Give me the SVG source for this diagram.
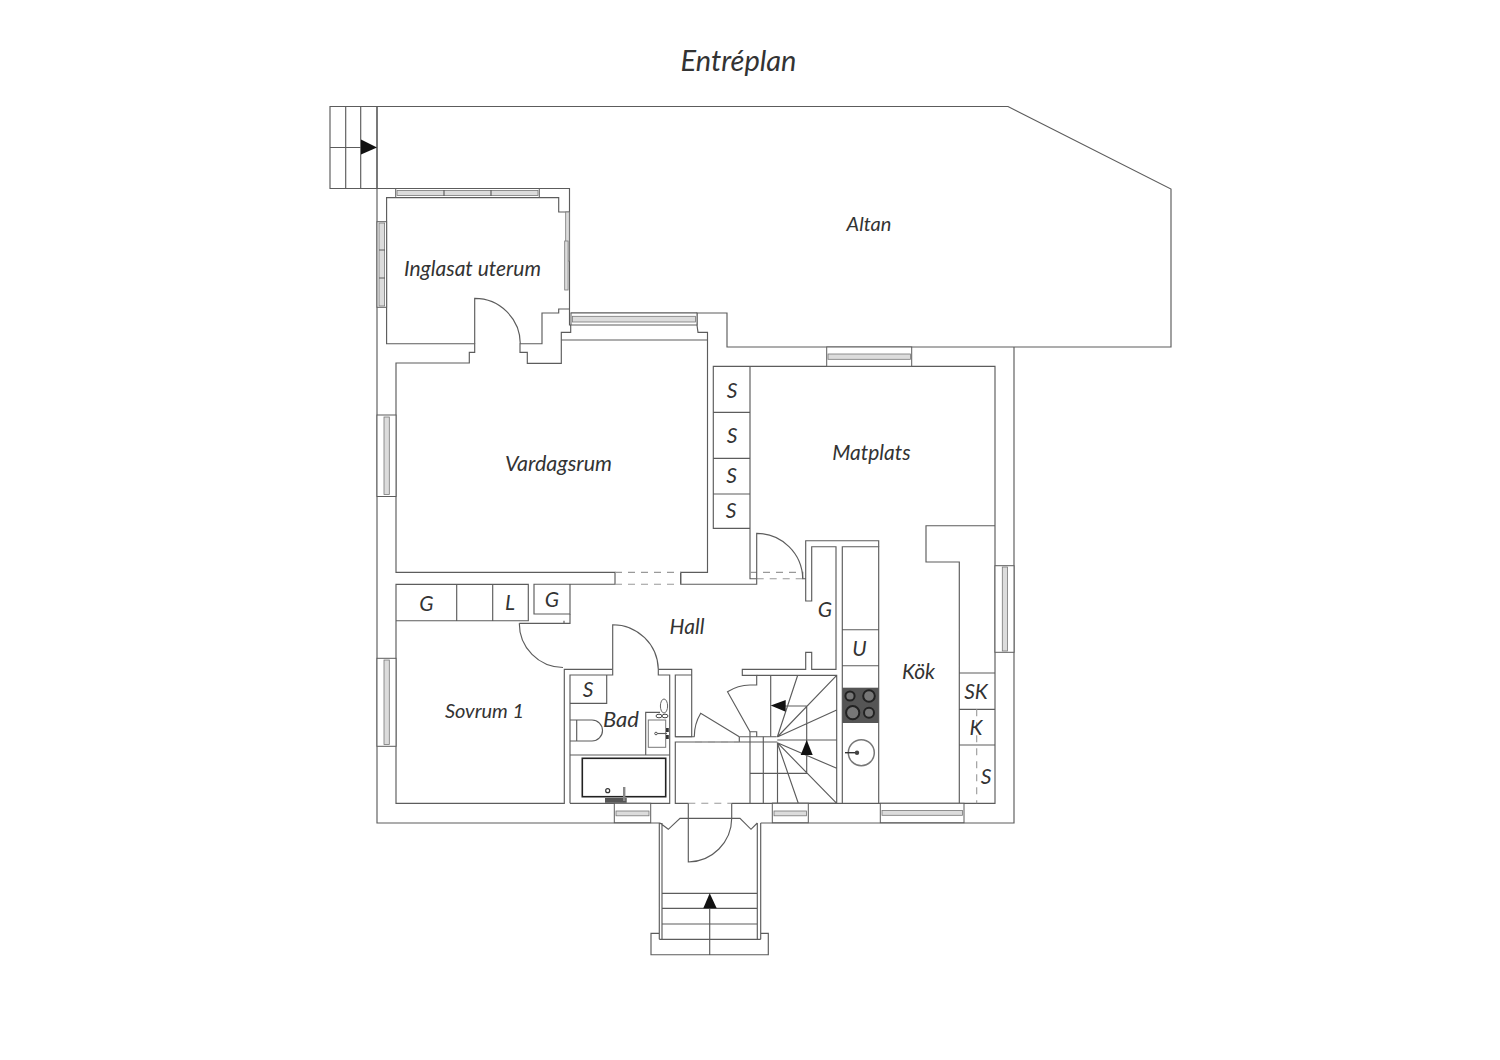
<svg xmlns="http://www.w3.org/2000/svg" width="1500" height="1060" viewBox="0 0 1500 1060">
<style>
.l{fill:none;stroke:#5c5c5c;stroke-width:1.15}
.d{fill:none;stroke:#999;stroke-width:1.1;stroke-dasharray:7 6}
.w{fill:#fff;stroke:#5c5c5c;stroke-width:1}
.v{fill:#dcdcdc;stroke:#777;stroke-width:.8}
.a{fill:#111;stroke:none}
text{font-family:"Lato","Liberation Sans",sans-serif;font-style:italic;font-size:21px;fill:#333;text-anchor:middle}
</style>
<rect width="1500" height="1060" fill="#fff"/>
<g id="walls">
<path class="l" d="M377 106.5H1008L1171 189V347H727V313H697V325L698 332.3H707.5V572.4H680.7V584.2H756.7V578.7H750V366.3M707.5 340H561.3M727 347H1014V823H760.7M660 823H377V188.5H569.5V309M377 188.5V106.5"/>
<path class="l" d="M386.6 212V197.6H558.7V212H569.5M386.6 197.6V343.7H474.7V352.3H469.3V363H396V572.4H615V584.2H570V614H534V584.2H570M615 572.4V584.2M680.7 572.4V584.2"/>
<path class="l" d="M569.5 309V325H570.7V332.3H561.3V363.3H527.3V352.3H520V343.7H542V313H558.7V309H569.5M570.7 313H697"/>
<path class="l" d="M396 584.3H528.3V620.7H396ZM456.7 584.3V620.7M492.7 584.3V620.7M396 620.7V803.3H564.3V669.3H612.7M519.3 623.3H564V620.7M564 623.3H570V614"/>
<path class="l" d="M570 803.3V675H612.7V669.3M658.3 669.3V675H669.7V803.3H570M658.3 669.3H691.7V736.7H675.3V675H691.7"/>
<path class="l" d="M694.5 736.7H675.3M675.3 742H695M739.3 742H675.3V803.3H688.3M731.7 803.3H750V736.7M739.3 736.7H776.7M739.3 736.7V742H777.3"/>
<path class="l" d="M802.7 571.7V578.7H805.7V601H811.7V546.7H836V669.3H811.7V652.3H805.7V669.3H742.3V675.3H756.7V685H750M750 736.7V731.7H756.7V736.7M805.7 578.7V540.7H878.7V546.7"/>
<path class="l" d="M772 803.3H842.3M842.3 546.7H878.7V803.3H842.3ZM842.3 629.7H878.7M842.3 665.7H878.7M878.7 803.3H995V366.3H713.3V528.3H750M713.3 412.3H750M713.3 458.3H750M713.3 494H750M995 525.7H926V562H959.3V803.3M959.3 673H995M959.3 709.3H995M959.3 745H995"/>
<path class="l" d="M756.7 675.3H836.7V803.3H750M770.7 675.3V736.7M763.3 736.7V803.3M777.5 742.5V803.3M777.3 737L797.7 675.3M777.3 737L836.7 675.3M777.3 737L836.7 710M777.3 740H836.7M777.3 742.7L836.7 768.3M777.3 742.7L836.7 803.3M777.3 742.7L798.3 803.3M785 706H806.7V773.3H750"/>
<path class="d" d="M615 572.4H680.7M615 584.2H680.7M750 572.4H802.7M756.7 578.7H802.7M695 742H739.3M688.3 803.3H731.7"/>
<path class="d" d="M976.7 709.3V803.3"/>
</g>
<g id="doors">
<path class="l" d="M474.7 343.7V298.4A45.6 45.6 0 0 1 520.3 343.7"/>
<path class="l" d="M519.3 623.3A44 44 0 0 0 563 667.5"/>
<path class="l" d="M612.7 669.3V624.7A45.6 45.6 0 0 1 658.3 669.3"/>
<path class="l" d="M756.7 578.7V533.4A46 46 0 0 1 802.7 578.7"/>
<path class="l" d="M750 731.7L727.5 691.7A45 45 0 0 1 750 685"/>
<path class="l" d="M739.3 736.7L700.7 713.3A45 45 0 0 0 694.3 736.7"/>
<path class="l" d="M688.3 803.3V862A44 44 0 0 0 731.7 818.3V803.3"/>
</g>
<g id="entrance">
<path class="l" d="M660 823L668.3 829.3L680 818.3H740L751 829.3L757.3 823M659.3 823V939.3M662 823V939.3M757.3 823V939.3M760.7 823V939.3M662 893.3H757.3M662 908.3H757.3M662 924H757.3M659.3 939.3H760.7M659.3 933.3H651V954.7H768.3V933.3H760.7M709.7 908.3V954.7"/>
<path class="a" d="M709.7 893.3L716.7 908.3H703.3Z"/>
</g>
<g id="terrace-steps">
<path class="l" d="M330 106.5H377V188.5H330ZM345.7 106.5V188.5M360.7 106.5V188.5M330 147.5H362"/>
<path class="a" d="M361 139.5L377 147.5L361 154.5Z"/>
</g>
<g id="stair-arrows">
<path class="a" d="M770.7 705.5L785.7 700V711.7Z"/>
<path class="a" d="M806.7 740L812.7 755H800.7Z"/>
</g>
<g id="windows">
<rect class="w" x="395.7" y="188.5" width="143.6" height="9"/><rect class="v" x="397" y="190.5" width="141" height="5"/><path class="l" d="M444 190V196M491 190V196"/>
<rect class="w" x="377" y="221.7" width="9.6" height="85.6"/><rect class="v" x="379" y="223" width="5.6" height="83"/><path class="l" d="M379 250H385M379 278H385"/>
<rect class="v" x="565.7" y="212" width="3.6" height="49"/><rect class="v" x="564.7" y="241" width="3.4" height="49"/>
<rect class="w" x="571" y="313" width="126" height="12"/><rect class="v" x="572.5" y="316.3" width="123" height="5.7"/>
<rect class="w" x="826.7" y="347" width="85" height="19.3"/><rect class="v" x="828" y="354" width="82.4" height="5.3"/>
<rect class="w" x="377" y="415" width="19" height="81.5"/><rect class="v" x="384" y="417" width="5.3" height="77.5"/>
<rect class="w" x="377" y="658.3" width="19" height="88"/><rect class="v" x="384" y="660" width="5.3" height="84.6"/>
<rect class="w" x="995" y="565.7" width="19" height="86.6"/><rect class="v" x="1002.3" y="567" width="5.3" height="84"/>
<rect class="w" x="614.3" y="803.3" width="36.4" height="19.4"/><rect class="v" x="616" y="811" width="33" height="4.8"/>
<rect class="w" x="772.3" y="803.3" width="36" height="19.4"/><rect class="v" x="774" y="811" width="32.6" height="4.8"/>
<rect class="w" x="880.3" y="803.3" width="83.7" height="19.4"/><rect class="v" x="882" y="810.5" width="80.4" height="4.8"/>
</g>
<g id="bathroom">
<path class="l" d="M570 703.3H606.7V675M570 755H669.7M645.7 755V712.3H660M570 720H592A10.5 10.5 0 0 1 592 741H570M576.7 720V741"/>
<rect x="582.3" y="758.3" width="83.4" height="38.4" fill="#fff" stroke="#222" stroke-width="1.6"/>
<rect x="648.3" y="720" width="17.4" height="27.3" fill="#fff" stroke="#777"/>
<path class="l" d="M656 733.5H667"/><circle cx="656" cy="733.5" r="1.3" fill="#fff" stroke="#555"/>
<rect x="666" y="728" width="2.8" height="4" fill="#333"/><rect x="666" y="735" width="2.8" height="4" fill="#333"/>
<ellipse cx="664" cy="706" rx="3.6" ry="7" fill="#fff" stroke="#666"/>
<ellipse cx="659" cy="716" rx="3" ry="1.8" fill="#fff" stroke="#444"/><ellipse cx="665" cy="716" rx="3" ry="1.8" fill="#fff" stroke="#444"/>
<rect x="605" y="798" width="21.7" height="4.8" fill="#555"/>
<rect x="623" y="787" width="2.4" height="14" fill="#888"/>
<circle cx="607.7" cy="790.7" r="2" fill="#fff" stroke="#333" stroke-width="1.2"/>
</g>
<g id="kitchen-appliances">
<rect x="842.3" y="687.7" width="36.4" height="35.3" fill="#555"/>
<g fill="#777" stroke="#222" stroke-width="2">
<circle cx="850" cy="696" r="4.6"/><circle cx="869" cy="696" r="5.8"/><circle cx="852.7" cy="712.7" r="6.6"/><circle cx="869" cy="712.7" r="5"/>
</g>
<circle cx="861.3" cy="752.7" r="13" fill="#fff" stroke="#777" stroke-width="1.5"/>
<path d="M845 752.7H857" stroke="#333" stroke-width="1.4" fill="none"/>
<circle cx="857" cy="752.7" r="2.2" fill="#444"/>
</g>
<g id="labels">
<text x="738.500" y="71" style="font-size:29px">Entréplan</text>
<text x="869" y="231" style="font-size:20px">Altan</text>
<text x="472.500" y="276">Inglasat uterum</text>
<text x="558.500" y="471" style="font-size:21.500px">Vardagsrum</text>
<text x="871.500" y="460">Matplats</text>
<text x="732" y="398">S</text>
<text x="732" y="443">S</text>
<text x="731.500" y="483">S</text>
<text x="731" y="518">S</text>
<text x="426.500" y="611">G</text>
<text x="510" y="610">L</text>
<text x="552" y="607">G</text>
<text x="825" y="617">G</text>
<text x="687" y="634">Hall</text>
<text x="859.500" y="656">U</text>
<text x="918.500" y="679">Kök</text>
<text x="976" y="699">SK</text>
<text x="976" y="735">K</text>
<text x="986" y="784">S</text>
<text x="588" y="697">S</text>
<text x="621" y="727" style="font-size:22px">Bad</text>
<text x="484.500" y="718" style="font-size:20px">Sovrum 1</text>
</g>
</svg>
